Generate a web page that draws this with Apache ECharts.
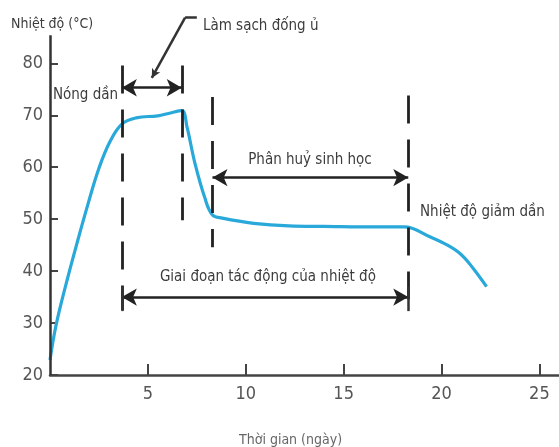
<!DOCTYPE html>
<html>
<head>
<meta charset="utf-8">
<script src="https://cdn.jsdelivr.net/npm/echarts@6/dist/echarts.min.js"></script>
<style>html,body{margin:0;padding:0;background:#fff}#c{width:559px;height:447px}</style>
</head>
<body>
<div id="c"></div>
<script>
// ---- data ----
const days  = [0, 0.31, 0.82, 1.38, 1.94, 2.5, 3.06, 3.67, 4.4, 5.5, 6.1, 6.73, 7.0, 7.4, 7.9, 8.3, 8.8, 10.4, 12.2, 14, 16.8, 18.1, 19.4, 20.3, 21.0, 21.6, 22.3];
const temps = [22.9, 29.6, 37.5, 45.4, 52.9, 59.8, 64.9, 68.3, 69.5, 69.9, 70.4, 70.9, 67.7, 60.8, 54.2, 50.8, 50.2, 49.2, 48.7, 48.6, 48.5, 48.5, 46.6, 45.0, 43.2, 40.6, 37];
const xTicks = [5, 10, 15, 20, 25];
const yTicks = [20, 30, 40, 50, 60, 70, 80];
// phase boundaries (days)
const bounds = [3.67, 6.73, 8.3, 18.3];
const labels = {
  clean: 'Làm sạch đống ủ',
  heat: 'Nóng dần',
  decomp: 'Phân huỷ sinh học',
  cool: 'Nhiệt độ giảm dần',
  phase: 'Giai đoạn tác động của nhiệt độ',
  yName: 'Nhiệt độ (°C)',
  xName: 'Thời gian (ngày)'
};

const FF = "'Liberation Sans Narrow', 'DejaVu Sans Condensed', 'Arial Narrow', sans-serif";
const TXT = '#3c3c3c';
const INK = '#222';

const seg = (a, b, extra) => [Object.assign({coord: a}, extra && extra[0] || {}), Object.assign({coord: b}, extra && extra[1] || {})];

const chart = echarts.init(document.getElementById('c'), null, {renderer: 'canvas'});
chart.setOption({
  animation: false,
  title: [
    {text: labels.yName, left: 6, top: 12, textStyle: {fontFamily: FF, fontSize: 14, fontWeight: 'normal', color: TXT}},
    {text: labels.xName, left: 234, top: 428, textStyle: {fontFamily: FF, fontSize: 14, fontWeight: 'normal', color: '#666'}}
  ],
  grid: {left: 50, right: 0, top: 1, bottom: 72},
  xAxis: {
    type: 'value', min: 0, max: 26,
    axisLine: {lineStyle: {color: '#444', width: 2.5}},
    axisTick: {inside: true, length: 11, customValues: xTicks, lineStyle: {color: '#444', width: 2}},
    axisLabel: {customValues: xTicks, margin: 10, fontSize: 18, color: '#555', fontFamily: FF},
    splitLine: {show: false}
  },
  yAxis: {
    type: 'value', min: 20, max: 92,
    axisLine: {show: false},
    axisTick: {show: true, inside: true, length: 8, customValues: yTicks, lineStyle: {color: '#444', width: 2}},
    axisLabel: {customValues: yTicks, margin: 7, fontSize: 18, color: '#555', fontFamily: FF},
    splitLine: {show: false}
  },
  series: [
    {
      type: 'line', z: 3, silent: true,
      data: days.map((d, i) => [d, temps[i]]),
      smooth: 0.4, symbol: 'none',
      lineStyle: {color: '#29a8da', width: 3.2}
    },
    { // dashed phase lines
      type: 'line', data: [], clip: false, silent: true,
      markLine: {
        silent: true, symbol: 'none', label: {show: false}, emphasis: {disabled: true},
        lineStyle: {type: [28, 16], color: INK, width: 2.8},
        data: [
          seg([bounds[0], 79.6], [bounds[0], 32.5]),
          seg([bounds[1], 79.6], [bounds[1], 49.8]),
          seg([bounds[2], 73.5], [bounds[2], 44.6]),
          seg([bounds[3], 73.8], [bounds[3], 32.5])
        ]
      }
    },
    { // arrows
      type: 'line', data: [], clip: false, silent: true,
      markLine: {
        silent: true, symbol: ['arrow', 'arrow'], symbolSize: [13, 15], label: {show: false}, emphasis: {disabled: true},
        lineStyle: {type: 'solid', color: INK, width: 2.6},
        data: [
          seg([bounds[0], 75.3], [bounds[1], 75.3]),
          seg([bounds[2], 58], [bounds[3], 58]),
          seg([bounds[0], 35], [bounds[3], 35])
        ]
      }
    },
    { // solid helper lines: y axis, end bars, leader
      type: 'line', data: [], clip: false, silent: true,
      markLine: {
        silent: true, symbol: 'none', label: {show: false}, emphasis: {disabled: true},
        lineStyle: {type: 'solid', color: '#333', width: 2.5},
        data: [
          seg([0, 20], [0, 85.4]),
          seg([bounds[0], 37], [bounds[0], 32.3]),
          seg([bounds[3], 37], [bounds[3], 32.3]),
          seg([7.5, 88.8], [6.9, 88.8], [{}, {}]),
          seg([6.9, 88.8], [5.2, 77.2], [{symbol: 'none'}, {symbol: 'arrow', symbolSize: [7, 9]}])
        ]
      },
      markPoint: {
        silent: true, symbol: 'circle', symbolSize: 0,
        label: {show: true, fontFamily: FF, fontSize: 15, color: TXT},
        data: [
          {coord: [7.81, 87.2], label: {formatter: labels.clean, position: 'right', distance: 0}},
          {coord: [0.15, 73.9], label: {formatter: labels.heat, position: 'right', distance: 0}},
          {coord: [13.28, 61.4], label: {formatter: labels.decomp, position: 'inside'}},
          {coord: [18.9, 51.4], label: {formatter: labels.cool, position: 'right', distance: 0}},
          {coord: [11.13, 38.9], label: {formatter: labels.phase, position: 'inside'}}
        ]
      }
    }
  ]
});
</script>
</body>
</html>
